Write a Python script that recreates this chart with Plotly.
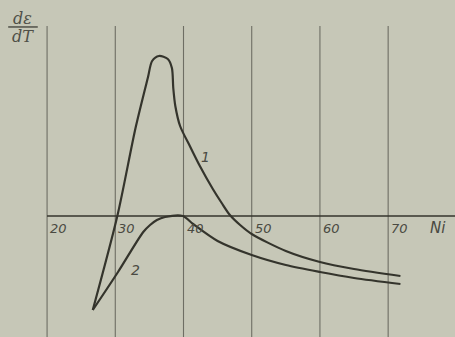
import plotly.graph_objects as go

# Data (Ni content, dE/dT in arbitrary units)
curve1_x = [26.7, 30.3, 33.0, 34.8, 35.4, 36.4, 37.7, 38.3, 38.5, 38.8, 39.5, 41.0, 42.4, 44.3, 45.6, 46.8, 48.3, 50.0, 55.0, 60.0, 65.0, 71.8]
curve1_y = [-9.4, 0.0, 8.9, 13.9, 15.5, 16.0, 15.7, 14.8, 12.8, 11.0, 9.0, 6.9, 5.0, 2.7, 1.3, 0.1, -0.9, -1.8, -3.5, -4.6, -5.3, -6.0]

curve2_x = [26.7, 30.4, 34.1, 35.1, 36.1, 37.3, 39.9, 41.4, 45.0, 50.0, 55.0, 60.0, 65.0, 71.8]
curve2_y = [-9.4, -5.6, -1.6, -0.9, -0.4, -0.1, 0.0, -0.8, -2.5, -3.9, -4.9, -5.6, -6.2, -6.8]

tick_values = [20, 30, 40, 50, 60, 70]
tick_labels = ["20", "30", "40", "50", "60", "70"]
curve_names = ["1", "2"]
curve_label_pos = [(43.2, 5.9), (32.9, -5.4)]

ink = "#34342c"
grid = "#6e6e64"
label_ink = "#4a4a42"
bg = "#c6c7b7"

fig = go.Figure()
for cx, cy in [(curve1_x, curve1_y), (curve2_x, curve2_y)]:
    fig.add_trace(go.Scatter(x=cx, y=cy, mode="lines",
                             line=dict(color=ink, width=2.2, shape="spline", smoothing=0.8),
                             hoverinfo="skip"))

shapes = []
for t in tick_values:
    shapes.append(dict(type="line", xref="x", yref="y", x0=t, x1=t, y0=-13, y1=19.0,
                       line=dict(color=grid, width=1.1), layer="below"))
shapes.append(dict(type="line", xref="x", yref="y", x0=20, x1=80, y0=0, y1=0,
                   line=dict(color=ink, width=1.6), layer="below"))
# fraction bar of the axis title
shapes.append(dict(type="line", xref="paper", yref="paper", x0=0.018, x1=0.083,
                   y0=0.92, y1=0.92, line=dict(color="#505048", width=1.5)))

annotations = []
for t, lab in zip(tick_values, tick_labels):
    annotations.append(dict(x=t, y=0, xref="x", yref="y", text=f"<i>{lab}</i>",
                            showarrow=False, xanchor="left", yanchor="top",
                            xshift=1, yshift=-3,
                            font=dict(family="DejaVu Sans", size=13, color=label_ink)))
annotations.append(dict(x=75.9, y=0, xref="x", yref="y", text="<i>Ni</i>",
                        showarrow=False, xanchor="left", yanchor="top", yshift=-1,
                        font=dict(family="DejaVu Sans", size=15, color=label_ink)))
for name, (lx, ly) in zip(curve_names, curve_label_pos):
    annotations.append(dict(x=lx, y=ly, xref="x", yref="y", text=f"<i>{name}</i>",
                            showarrow=False,
                            font=dict(family="DejaVu Sans", size=14, color=label_ink)))
annotations.append(dict(x=0.05, y=0.922, xref="paper", yref="paper", text="<i>dε</i>",
                        showarrow=False, xanchor="center", yanchor="bottom", yshift=-4,
                        font=dict(family="DejaVu Serif", size=16, color="#505048")))
annotations.append(dict(x=0.05, y=0.918, xref="paper", yref="paper", text="<i>dT</i>",
                        showarrow=False, xanchor="center", yanchor="top", yshift=3,
                        font=dict(family="DejaVu Serif", size=16, color="#505048")))

fig.update_layout(
    width=455, height=337,
    margin=dict(l=0, r=0, t=0, b=0),
    paper_bgcolor=bg, plot_bgcolor=bg,
    showlegend=False,
    shapes=shapes, annotations=annotations,
    xaxis=dict(range=[13.1, 79.8], visible=False, fixedrange=True),
    yaxis=dict(range=[-12.1, 21.6], visible=False, fixedrange=True),
)
fig.write_html("out.html", config={"displayModeBar": False},
               post_script="document.body.style.margin='0';document.body.style.background='%s';" % bg)
